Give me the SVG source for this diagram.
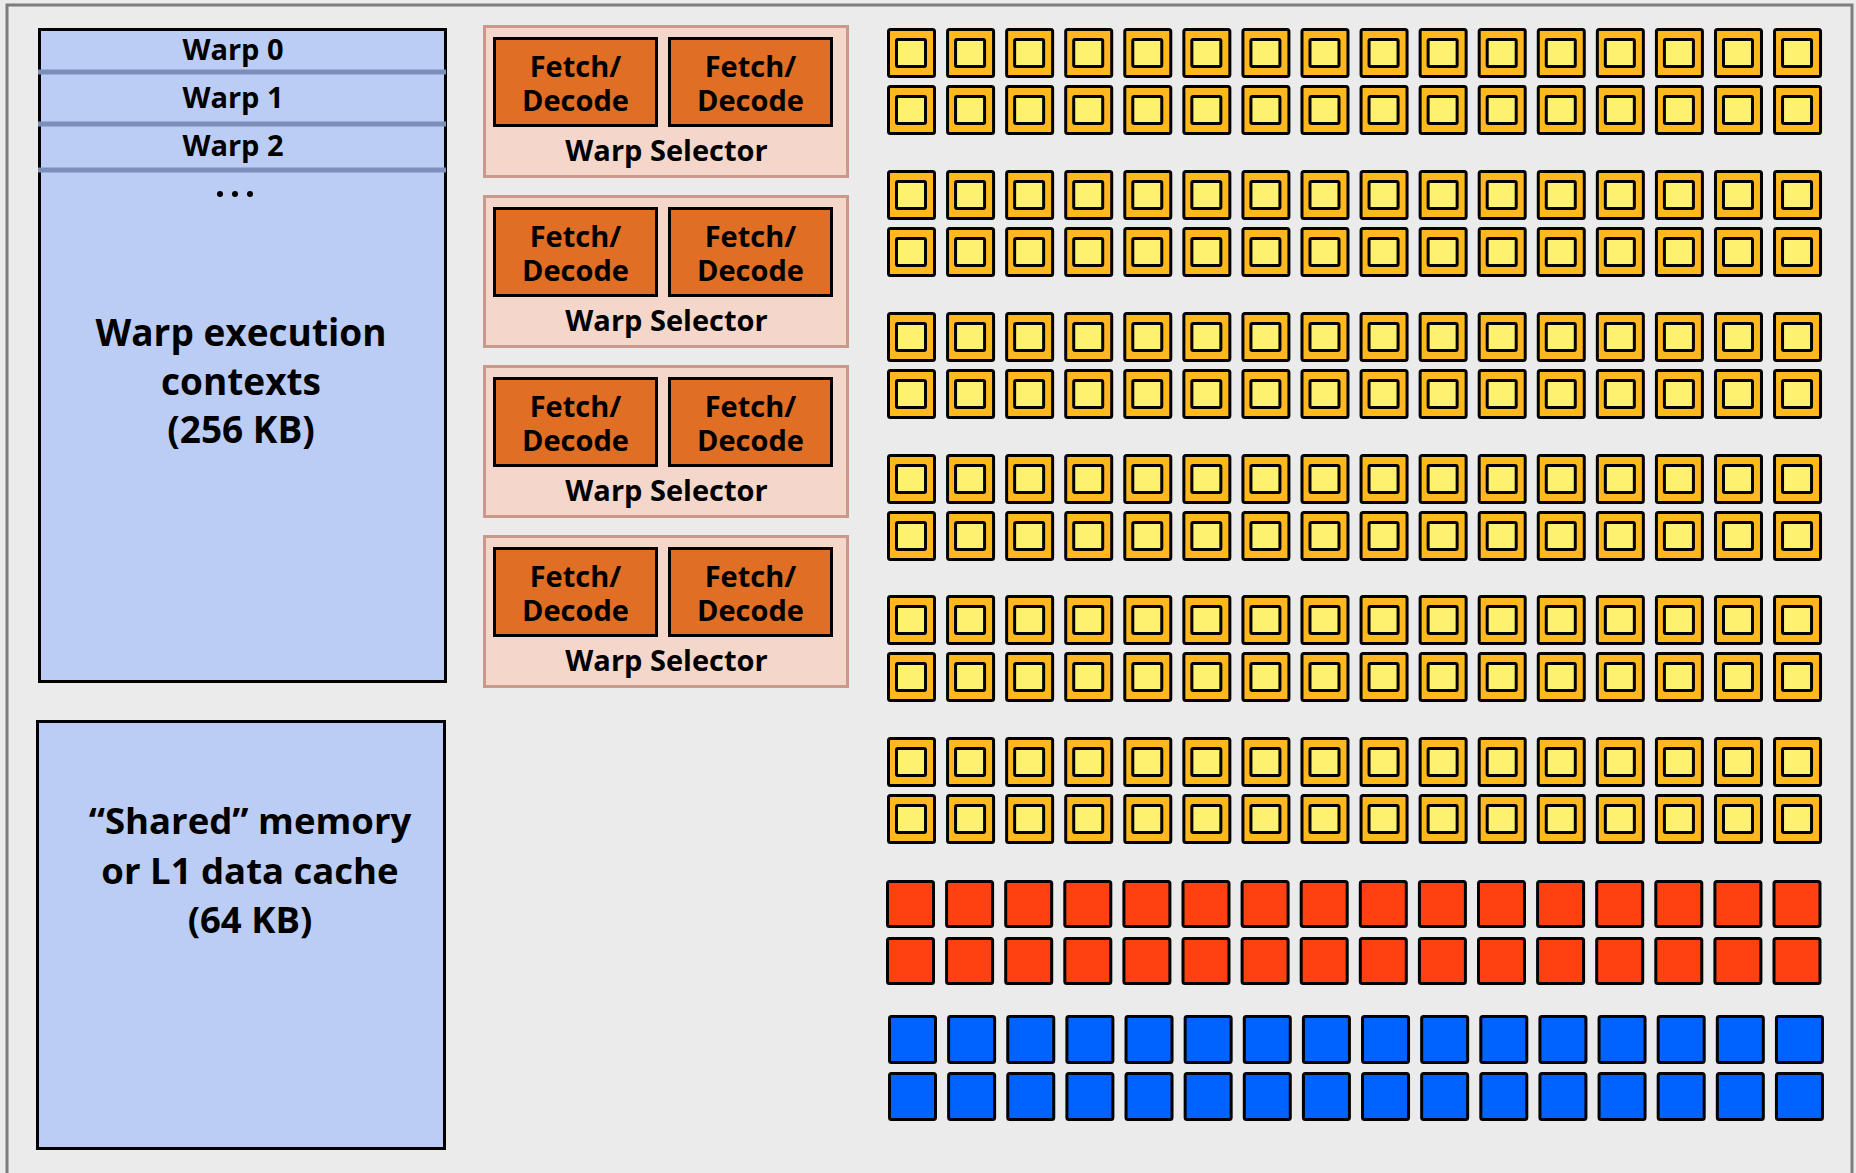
<svg xmlns="http://www.w3.org/2000/svg" xmlns:xlink="http://www.w3.org/1999/xlink" width="1856" height="1173" viewBox="0 0 1856 1173">
<style>
.lbl{font-family:"Open Sans","Liberation Sans",sans-serif;font-weight:700;fill:#000;text-anchor:middle}
.mem{fill:#bbcdf4;stroke:#000;stroke-width:3}
.sep{stroke:#7b8fb8;stroke-width:5}
.sel{fill:#f4d6ca;stroke:#c99a8b;stroke-width:3}
.fd{fill:#e06e24;stroke:#000;stroke-width:3}
.co{fill:#ffb81e;stroke:#000;stroke-width:3}
.ci{fill:#fff170;stroke:#000;stroke-width:3}
.red{fill:#ff4112;stroke:#000;stroke-width:3}
.blu{fill:#0063ff;stroke:#000;stroke-width:3}
</style>
<defs>
<g id="core"><rect class="co" x="1.5" y="1.5" width="46" height="47" rx="2"/><rect class="ci" x="9.5" y="11.5" width="29" height="27" rx="1.5"/></g>
<rect id="rcell" class="red" x="1.5" y="1.5" width="46" height="45" rx="2"/>
<rect id="bcell" class="blu" x="1.5" y="1.5" width="46" height="46" rx="2"/>
<g id="yrow">
<use xlink:href="#core" x="0"/><use xlink:href="#core" x="59.07"/><use xlink:href="#core" x="118.14"/><use xlink:href="#core" x="177.21"/><use xlink:href="#core" x="236.28"/><use xlink:href="#core" x="295.35"/><use xlink:href="#core" x="354.42"/><use xlink:href="#core" x="413.49"/><use xlink:href="#core" x="472.56"/><use xlink:href="#core" x="531.63"/><use xlink:href="#core" x="590.7"/><use xlink:href="#core" x="649.77"/><use xlink:href="#core" x="708.84"/><use xlink:href="#core" x="767.91"/><use xlink:href="#core" x="826.98"/><use xlink:href="#core" x="886.05"/>
</g>
<g id="rrow">
<use xlink:href="#rcell" x="0"/><use xlink:href="#rcell" x="59.1"/><use xlink:href="#rcell" x="118.2"/><use xlink:href="#rcell" x="177.3"/><use xlink:href="#rcell" x="236.4"/><use xlink:href="#rcell" x="295.5"/><use xlink:href="#rcell" x="354.6"/><use xlink:href="#rcell" x="413.7"/><use xlink:href="#rcell" x="472.8"/><use xlink:href="#rcell" x="531.9"/><use xlink:href="#rcell" x="591"/><use xlink:href="#rcell" x="650.1"/><use xlink:href="#rcell" x="709.2"/><use xlink:href="#rcell" x="768.3"/><use xlink:href="#rcell" x="827.4"/><use xlink:href="#rcell" x="886.5"/>
</g>
<g id="brow">
<use xlink:href="#bcell" x="0"/><use xlink:href="#bcell" x="59.13"/><use xlink:href="#bcell" x="118.26"/><use xlink:href="#bcell" x="177.39"/><use xlink:href="#bcell" x="236.52"/><use xlink:href="#bcell" x="295.65"/><use xlink:href="#bcell" x="354.78"/><use xlink:href="#bcell" x="413.91"/><use xlink:href="#bcell" x="473.04"/><use xlink:href="#bcell" x="532.17"/><use xlink:href="#bcell" x="591.3"/><use xlink:href="#bcell" x="650.43"/><use xlink:href="#bcell" x="709.56"/><use xlink:href="#bcell" x="768.69"/><use xlink:href="#bcell" x="827.82"/><use xlink:href="#bcell" x="886.95"/>
</g>
<g id="selector">
<rect class="sel" x="0" y="0" width="363" height="150"/>
<rect class="fd" x="10" y="12" width="162" height="87"/>
<rect class="fd" x="185" y="12" width="162" height="87"/>
<text class="lbl" font-size="29" x="91" y="50">Fetch/</text>
<text class="lbl" font-size="29" x="91" y="84">Decode</text>
<text class="lbl" font-size="29" x="266" y="50">Fetch/</text>
<text class="lbl" font-size="29" x="266" y="84">Decode</text>
<text class="lbl" font-size="29" x="182" y="134">Warp Selector</text>
</g>
</defs>
<rect x="0" y="0" width="1856" height="1173" fill="#ebebeb"/>
<rect id="frame" x="7" y="5" width="1845" height="1190" fill="#ebebeb" stroke="#7d7d7d" stroke-width="3"/>
<g id="connectors"></g>
<g id="warp-contexts">
<rect class="mem" x="39.5" y="29.5" width="406" height="652"/>
<line class="sep" x1="38" y1="72" x2="446" y2="72"/>
<line class="sep" x1="38" y1="124" x2="446" y2="124"/>
<line class="sep" x1="38" y1="170" x2="446" y2="170"/>
<text class="lbl" font-size="29" x="233" y="60">Warp 0</text>
<text class="lbl" font-size="29" x="233" y="108">Warp 1</text>
<text class="lbl" font-size="29" x="233" y="156">Warp 2</text>
<circle cx="220" cy="194" r="3"/><circle cx="235" cy="194" r="3"/><circle cx="250" cy="194" r="3"/>
<text class="lbl" font-size="37" x="241" y="346">Warp execution</text>
<text class="lbl" font-size="37" x="241" y="395">contexts</text>
<text class="lbl" font-size="37" x="241" y="443">(256 KB)</text>
</g>
<g id="shared-memory">
<rect class="mem" x="37.5" y="721.5" width="407" height="427"/>
<text class="lbl" font-size="36.5" x="250" y="834">“Shared” memory</text>
<text class="lbl" font-size="36.5" x="250" y="884">or L1 data cache</text>
<text class="lbl" font-size="36.5" x="250" y="933">(64 KB)</text>
</g>
<g id="warp-selector-1"><use xlink:href="#selector" x="484.5" y="26.5"/></g>
<g id="warp-selector-2"><use xlink:href="#selector" x="484.5" y="196.5"/></g>
<g id="warp-selector-3"><use xlink:href="#selector" x="484.5" y="366.5"/></g>
<g id="warp-selector-4"><use xlink:href="#selector" x="484.5" y="536.5"/></g>
<g id="cores">
<use xlink:href="#yrow" x="887" y="28"/><use xlink:href="#yrow" x="887" y="85"/>
<use xlink:href="#yrow" x="887" y="170"/><use xlink:href="#yrow" x="887" y="227"/>
<use xlink:href="#yrow" x="887" y="312"/><use xlink:href="#yrow" x="887" y="369"/>
<use xlink:href="#yrow" x="887" y="454"/><use xlink:href="#yrow" x="887" y="511"/>
<use xlink:href="#yrow" x="887" y="595"/><use xlink:href="#yrow" x="887" y="652"/>
<use xlink:href="#yrow" x="887" y="737"/><use xlink:href="#yrow" x="887" y="794"/>
</g>
<g id="red-units">
<use xlink:href="#rrow" x="886" y="880"/><use xlink:href="#rrow" x="886" y="937"/>
</g>
<g id="blue-units">
<use xlink:href="#brow" x="888" y="1015"/><use xlink:href="#brow" x="888" y="1072"/>
</g>
</svg>
